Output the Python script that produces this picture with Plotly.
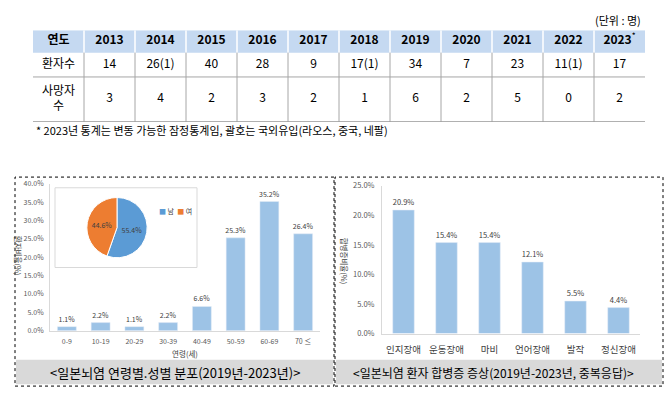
import plotly.graph_objects as go

# ---------------- data ----------------
years = ["2013", "2014", "2015", "2016", "2017", "2018", "2019", "2020", "2021", "2022", "2023"]
year_marks = ["", "", "", "", "", "", "", "", "", "", "*"]
patients = ["14", "26(1)", "40", "28", "9", "17(1)", "34", "7", "23", "11(1)", "17"]
deaths = [3, 4, 2, 3, 2, 1, 6, 2, 5, 0, 2]
row_labels = ["연도", "환자수", "사망자<br>수"]
unit_note = "(단위 : 명)"
footnote = "* 2023년 통계는 변동 가능한 잠정통계임, 괄호는 국외유입(라오스, 중국, 네팔)"

age_groups = ["0-9", "10-19", "20-29", "30-39", "40-49", "50-59", "60-69", "70 ≤"]
age_pct = [1.1, 2.2, 1.1, 2.2, 6.6, 25.3, 35.2, 26.4]
sex_labels = ["남", "여"]
sex_pct = [55.4, 44.6]
symptoms = ["인지장애", "운동장애", "마비", "언어장애", "발작", "정신장애"]
symptom_pct = [20.9, 15.4, 15.4, 12.1, 5.5, 4.4]

caption_left = "&lt;일본뇌염 연령별.성별 분포(2019년-2023년)&gt;"
caption_right = "&lt;일본뇌염 환자 합병증 증상(2019년-2023년, 중복응답)&gt;"
ytitle_left = "환자비율(%)"
ytitle_right = "합병증비율(%)"
xtitle_left = "연령(세)"

# ---------------- style / layout helpers ----------------
W, H = 670, 394
FONT = "Noto Sans CJK KR, Malgun Gothic, sans-serif"
BAR = "#9dc3e6"
SEX_COLORS = ["#5b9bd5", "#ed7d31"]
TICK = "#595959"
LABEL = "#404040"


def px(x):
    return x / W


def py(y):
    return 1 - y / H


ROW_EDGES = [0, 23, 48, 94]  # table row boundaries (pixels from table top)
row_centers = [(ROW_EDGES[i] + ROW_EDGES[i + 1]) / 2 for i in range(3)]
ncol = len(years) + 1

fig = go.Figure()

# ---------------- table (drawn on hidden axis 3) ----------------
header = ["<b>%s</b>" % row_labels[0]] + [
    "<b>%s</b>" % y + ("<sup>%s</sup>" % m if m else "") for y, m in zip(years, year_marks)
]
row2 = [row_labels[1]] + patients
row3 = [row_labels[2]] + [str(d) for d in deaths]
tx, ty, tt = [], [], []
for r, row in enumerate([header, row2, row3]):
    for c, val in enumerate(row):
        tx.append(c)
        ty.append(row_centers[r])
        tt.append(val)
fig.add_trace(go.Scatter(
    x=tx, y=ty, text=tt, mode="text", textposition="middle center",
    textfont=dict(size=12, color="#000000", family=FONT),
    xaxis="x3", yaxis="y3", hoverinfo="skip", showlegend=False))

shapes = []
shapes.append(dict(type="rect", xref="x3", yref="y3", x0=-0.5, x1=ncol - 0.5,
                   y0=ROW_EDGES[0], y1=ROW_EDGES[1], fillcolor="#c5d9f1",
                   line=dict(width=0), layer="below"))
for k in range(ncol - 1):
    xk = k + 0.5
    shapes.append(dict(type="line", xref="x3", yref="y3", x0=xk, x1=xk,
                       y0=ROW_EDGES[0], y1=ROW_EDGES[1], line=dict(color="white", width=1.5)))
    shapes.append(dict(type="line", xref="x3", yref="y3", x0=xk, x1=xk,
                       y0=ROW_EDGES[1], y1=ROW_EDGES[3], line=dict(color="#a6a6a6", width=1)))
for ye, col in [(ROW_EDGES[2], "#a6a6a6"), (ROW_EDGES[3], "#808080")]:
    shapes.append(dict(type="line", xref="x3", yref="y3", x0=-0.5, x1=ncol - 0.5,
                       y0=ye, y1=ye, line=dict(color=col, width=1)))

# ---------------- left bar chart ----------------
fig.add_trace(go.Bar(
    x=age_groups, y=age_pct, marker_color=BAR, width=0.56,
    texttemplate="%{y:.1f}%", textposition="outside", constraintext="none",
    textfont=dict(size=7, color=LABEL, family=FONT), cliponaxis=False,
    xaxis="x", yaxis="y", showlegend=False))

# ---------------- pie inset ----------------
fig.add_trace(go.Pie(
    labels=sex_labels, values=sex_pct, sort=False, direction="clockwise", rotation=0,
    marker=dict(colors=SEX_COLORS, line=dict(color="white", width=1)),
    texttemplate="%{value:.1f}%", textposition="inside",
    insidetextfont=dict(size=7, color=LABEL, family=FONT),
    domain=dict(x=[px(86), px(148)], y=[py(259), py(197)]),
    showlegend=False, hoverinfo="label+percent"))

# ---------------- right bar chart ----------------
fig.add_trace(go.Bar(
    x=symptoms, y=symptom_pct, marker_color=BAR, width=0.5,
    texttemplate="%{y:.1f}%", textposition="outside", constraintext="none",
    textfont=dict(size=7.5, color=LABEL, family=FONT), cliponaxis=False,
    xaxis="x2", yaxis="y2", showlegend=False))

# panel frames, caption bands, inset frame
shapes += [
    dict(type="rect", xref="paper", yref="paper", x0=px(15), x1=px(334), y0=py(391), y1=py(176),
         line=dict(color="#000000", width=1, dash="dot")),
    dict(type="rect", xref="paper", yref="paper", x0=px(335), x1=px(663), y0=py(391), y1=py(176),
         line=dict(color="#000000", width=1, dash="dot")),
    dict(type="rect", xref="paper", yref="paper", x0=px(16), x1=px(333), y0=py(389), y1=py(364),
         fillcolor="#d9d9d9", line=dict(width=0), layer="below"),
    dict(type="rect", xref="paper", yref="paper", x0=px(336), x1=px(662), y0=py(389), y1=py(364),
         fillcolor="#d9d9d9", line=dict(width=0), layer="below"),
    dict(type="rect", xref="paper", yref="paper", x0=px(55), x1=px(197), y0=py(269), y1=py(187),
         line=dict(color="#d9d9d9", width=1), fillcolor="white", layer="below"),
]

legend_text = "  ".join(
    "<span style='color:%s'>■</span> %s" % (c, l) for c, l in zip(SEX_COLORS, sex_labels))

annotations = [
    dict(text=unit_note, x=px(643), y=py(14), xref="paper", yref="paper", xanchor="right",
         yanchor="middle", showarrow=False, font=dict(size=11, color="#000000", family=FONT)),
    dict(text=footnote, x=px(34), y=py(128), xref="paper", yref="paper", xanchor="left",
         yanchor="middle", showarrow=False, font=dict(size=11, color="#000000", family=FONT)),
    dict(text=caption_left, x=px(175), y=py(377), xref="paper", yref="paper", xanchor="center",
         yanchor="middle", showarrow=False, font=dict(size=13, color="#000000", family=FONT)),
    dict(text=caption_right, x=px(494), y=py(377), xref="paper", yref="paper", xanchor="center",
         yanchor="middle", showarrow=False, font=dict(size=12, color="#000000", family=FONT)),
    dict(text=ytitle_left, x=px(18), y=py(257), xref="paper", yref="paper", textangle=90,
         xanchor="center", yanchor="middle",
         showarrow=False, font=dict(size=7.5, color=LABEL, family=FONT)),
    dict(text=ytitle_right, x=px(344), y=py(262), xref="paper", yref="paper", textangle=90,
         xanchor="center", yanchor="middle",
         showarrow=False, font=dict(size=7.5, color=LABEL, family=FONT)),
    dict(text=legend_text, x=px(157), y=py(211), xref="paper", yref="paper", xanchor="left",
         yanchor="middle", showarrow=False, font=dict(size=7, color=LABEL, family=FONT)),
]

axis_common = dict(showgrid=False, zeroline=False, showline=True, linecolor="#d9d9d9",
                   linewidth=1, ticks="", fixedrange=True)

fig.update_layout(
    width=W, height=H, autosize=False,
    margin=dict(l=0, r=0, t=0, b=0),
    paper_bgcolor="white", plot_bgcolor="rgba(0,0,0,0)",
    font=dict(family=FONT, color=LABEL),
    shapes=shapes, annotations=annotations,
    xaxis=dict(domain=[px(50), px(320)], anchor="y", **axis_common,
               tickfont=dict(size=7, color=TICK), ticklabelstandoff=4,
               title=dict(text=xtitle_left, font=dict(size=7.5, color=LABEL), standoff=6)),
    yaxis=dict(domain=[py(334), py(183)], anchor="x", range=[0, 40], dtick=5,
               tickformat=".1f", ticksuffix="%", **axis_common, ticklabelstandoff=4,
               tickfont=dict(size=7, color=TICK)),
    xaxis2=dict(domain=[px(382), px(640)], anchor="y2", **axis_common, ticklabelstandoff=7,
                tickfont=dict(size=9.5, color=LABEL)),
    yaxis2=dict(domain=[py(337), py(185)], anchor="x2", range=[0, 25], dtick=5,
                tickformat=".1f", ticksuffix="%", **axis_common, ticklabelstandoff=5,
                tickfont=dict(size=7.5, color=TICK)),
    xaxis3=dict(domain=[px(33), px(645)], anchor="y3", range=[-0.5, ncol - 0.5],
                visible=False, fixedrange=True),
    yaxis3=dict(domain=[py(119), py(25)], anchor="x3", range=[ROW_EDGES[-1], ROW_EDGES[0]],
                visible=False, fixedrange=True),
)

fig.write_html("out.html", config={"displayModeBar": False},
               post_script="document.body.style.margin='0';")
